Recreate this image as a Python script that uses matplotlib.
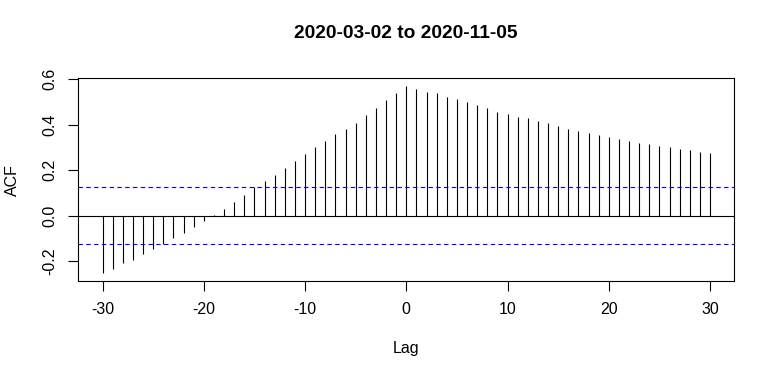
import numpy as np
import matplotlib
matplotlib.use("Agg")
import matplotlib.pyplot as plt

## data ##
lags = np.arange(-30, 31)
acf = [-0.253, -0.234, -0.210, -0.193, -0.170, -0.148, -0.123, -0.100, -0.075, -0.048,
       -0.023, 0.002, 0.029, 0.059, 0.091, 0.125, 0.152, 0.180, 0.208, 0.242,
       0.270, 0.302, 0.330, 0.359, 0.381, 0.409, 0.441, 0.475, 0.510, 0.538,
       0.571, 0.557, 0.545, 0.538, 0.523, 0.514, 0.498, 0.485, 0.472, 0.457,
       0.447, 0.435, 0.428, 0.418, 0.407, 0.394, 0.382, 0.374, 0.363, 0.353,
       0.346, 0.337, 0.328, 0.319, 0.314, 0.305, 0.300, 0.293, 0.289, 0.281,
       0.274]
ci = 0.124
title = "2020-03-02 to 2020-11-05"
xticks = [-30, -20, -10, 0, 10, 20, 30]
yticks = [-0.2, 0.0, 0.2, 0.4, 0.6]

plt.rcParams["font.family"] = ["Liberation Sans", "DejaVu Sans"]

W, H = 775, 379
fig = plt.figure(figsize=(W / 100, H / 100), dpi=100)
ax = fig.add_axes([0.101, 0.2594, 0.8465, 0.534])

ax.vlines(lags, 0, acf, color="black", linewidth=0.8)
ax.axhline(0, color="black", linewidth=0.8)
ax.axhline(ci, color="blue", linewidth=0.8, linestyle=(0, (4, 3)))
ax.axhline(-ci, color="blue", linewidth=0.8, linestyle=(0, (4, 3)))

ax.set_xlim(-32.4, 32.4)
ax.set_ylim(-0.286, 0.604)
ax.set_xticks(xticks)
ax.set_xticklabels([str(t) for t in xticks])
ax.set_yticks(yticks)
ax.set_yticklabels([f"{t:.1f}" for t in yticks], rotation=90, va="center")
ax.tick_params(direction="out", length=6.9, width=0.8, labelsize=11.5, pad=8.5)

for s in ax.spines.values():
    s.set_linewidth(0.8)

fig.text(406 / W, 1 - 34 / H, title, ha="center", va="center",
         fontsize=13.8, fontweight="bold")
fig.text(406 / W, 1 - 349 / H, "Lag", ha="center", va="center", fontsize=11.5)
fig.text(12 / W, 1 - 180 / H, "ACF", ha="center", va="center",
         fontsize=11.5, rotation=90)

fig.savefig("out.png", dpi=100)
